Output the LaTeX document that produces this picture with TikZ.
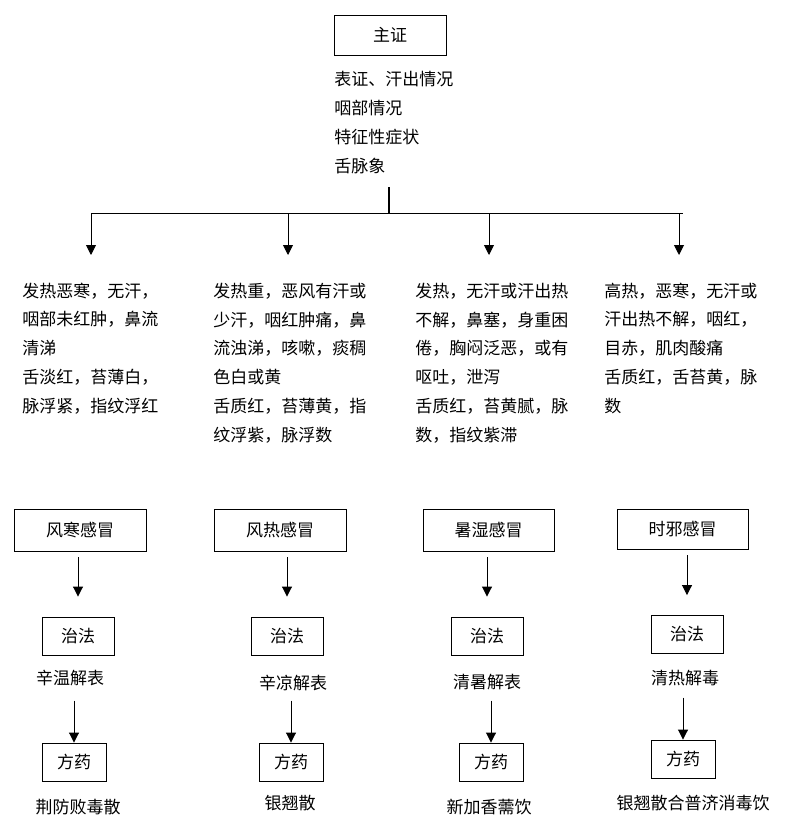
\documentclass[tikz,border=0pt]{standalone}
\usepackage{fontspec}
\setmainfont{Noto Sans CJK SC}
\usetikzlibrary{arrows.meta,positioning}

\begin{document}
\begin{tikzpicture}[x=1pt, y=-1pt,
  font=\fontsize{17}{28.7}\selectfont,
  box/.style={rectangle, draw, line width=0.9pt, inner sep=0pt,
    minimum height=40pt},
  txt/.style={anchor=base west, align=left, inner sep=0pt},
  lbl/.style={inner sep=0pt},
  >={Triangle[width=10pt,length=10pt]},
  every path/.style={line width=0.9pt}
]
  \useasboundingbox (0,0) rectangle (787,829);

  % Main symptom box and the list below it (base = last line)
  \node[box, minimum width=112pt] (zz) at (390,35) {主证};
  \node[txt] (zzlist) at (334,172)
    {表证、汗出情况\\咽部情况\\特征性症状\\舌脉象};

  % Stem and horizontal bar
  \coordinate (stem) at (389,187);
  \coordinate (bar) at (389,213);
  \coordinate (barL) at (91,213);
  \coordinate (barR) at (683,213);
  \draw[line width=2pt] (stem) -- (bar);
  \draw (barL) -- (barR);
  \foreach \x [count=\i] in {91,288,489,679} {
    \coordinate (top\i) at (\x,213);
    \coordinate (tip\i) at (\x,255);
    \draw[->] (top\i) -- (tip\i);
  }

  % Symptom columns
  \node[txt] (sy1) at (22,412) {发热恶寒，无汗，\\咽部未红肿，鼻流\\清涕\\
    舌淡红，苔薄白，\\脉浮紧，指纹浮红};
  \node[txt] (sy2) at (213,441) {发热重，恶风有汗或\\少汗，咽红肿痛，鼻\\
    流浊涕，咳嗽，痰稠\\色白或黄\\舌质红，苔薄黄，指\\纹浮紫，脉浮数};
  \node[txt] (sy3) at (415,441) {发热，无汗或汗出热\\不解，鼻塞，身重困\\
    倦，胸闷泛恶，或有\\呕吐，泄泻\\舌质红，苔黄腻，脉\\数，指纹紫滞};
  \node[txt] (sy4) at (604,412) {高热，恶寒，无汗或\\汗出热不解，咽红，\\
    目赤，肌肉酸痛\\舌质红，舌苔黄，脉\\数};

  % Syndrome boxes
  \node[box, minimum width=132pt, minimum height=42pt] (fh1) at (80,530) {风寒感冒};
  \node[box, minimum width=132pt, minimum height=42pt] (fh2) at (280,530) {风热感冒};
  \node[box, minimum width=131pt, minimum height=42pt] (fh3) at (488.5,530) {暑湿感冒};
  \node[box, minimum width=131pt] (fh4) at (682.5,529) {时邪感冒};

  % Treatment boxes
  \node[box, minimum width=72pt, minimum height=38pt] (zf1) at (78,636) {治法};
  \node[box, minimum width=72pt, minimum height=38pt] (zf2) at (287,636) {治法};
  \node[box, minimum width=72pt, minimum height=38pt] (zf3) at (487,636) {治法};
  \node[box, minimum width=72pt, minimum height=38pt] (zf4) at (687,634.5) {治法};

  \node[lbl] (zfa1) at (70,678) {辛温解表};
  \node[lbl] (zfa2) at (293,683) {辛凉解表};
  \node[lbl] (zfa3) at (487,682) {清暑解表};
  \node[lbl] (zfa4) at (685,678) {清热解毒};

  % Prescription boxes
  \node[box, minimum width=64pt, minimum height=38pt] (fy1) at (74,762) {方药};
  \node[box, minimum width=64pt, minimum height=38pt] (fy2) at (291,762) {方药};
  \node[box, minimum width=64pt, minimum height=38pt] (fy3) at (491,762) {方药};
  \node[box, minimum width=64pt, minimum height=38pt] (fy4) at (683,759) {方药};

  \node[lbl] (fya1) at (78,807) {荆防败毒散};
  \node[lbl] (fya2) at (290,803) {银翘散};
  \node[lbl] (fya3) at (489,807) {新加香薷饮};
  \node[lbl] (fya4) at (693,803) {银翘散合普济消毒饮};

  % Arrows down each column
  \foreach \i in {1,2,3,4} {
    \draw[->, shorten <=6pt, shorten >=20pt] (zf\i.north |- fh\i.south) -- (zf\i.north);
    \draw[->] ([yshift=42pt]fy\i.north) -- (fy\i.north);
  }
\end{tikzpicture}
\end{document}
